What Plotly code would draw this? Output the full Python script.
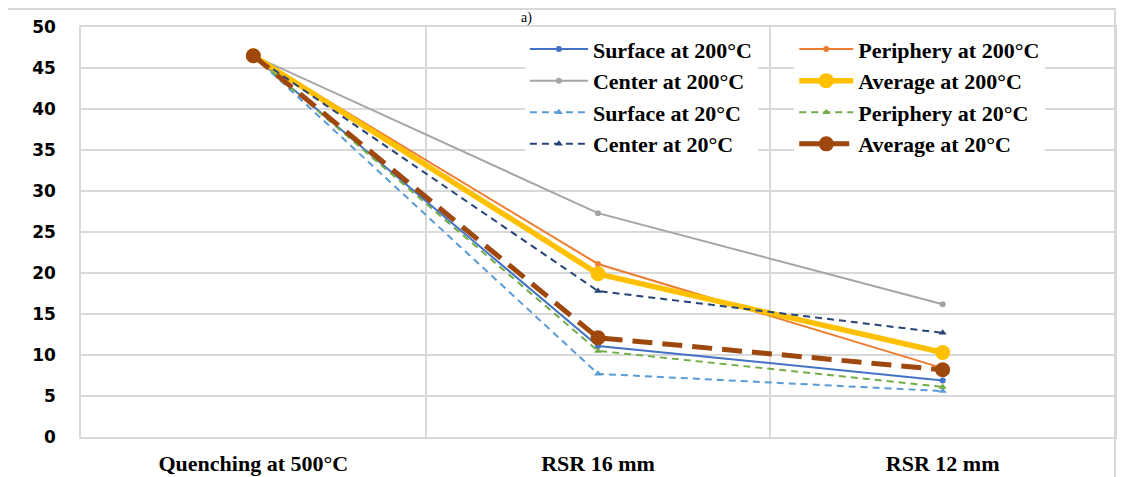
import plotly.graph_objects as go

categories = ["Quenching at 500°C", "RSR 16 mm", "RSR 12 mm"]

surface_200 = [46.5, 11.1, 6.9]
periphery_200 = [46.5, 21.1, 8.4]
center_200 = [46.5, 27.3, 16.2]
average_200 = [46.5, 19.9, 10.3]
surface_20 = [46.5, 7.7, 5.6]
periphery_20 = [46.5, 10.5, 6.1]
center_20 = [46.5, 17.8, 12.7]
average_20 = [46.5, 12.1, 8.2]

y_ticks = [0, 5, 10, 15, 20, 25, 30, 35, 40, 45, 50]

series = [
    ("Surface at 200°C", surface_200, "#4472C4", "solid", 2, "circle", 6, "legend"),
    ("Periphery at 200°C", periphery_200, "#ED7D31", "solid", 2, "circle", 6, "legend2"),
    ("Center at 200°C", center_200, "#A5A5A5", "solid", 2, "circle", 6, "legend"),
    ("Average at 200°C", average_200, "#FFC000", "solid", 5.5, "circle", 15, "legend2"),
    ("Surface at 20°C", surface_20, "#5B9BD5", "7px,5px", 2, "triangle-up", 7, "legend"),
    ("Periphery at 20°C", periphery_20, "#70AD47", "7px,5px", 2, "triangle-up", 7, "legend2"),
    ("Center at 20°C", center_20, "#264478", "7px,5px", 2, "triangle-up", 7, "legend"),
    ("Average at 20°C", average_20, "#9E480E", "20px,10px", 5, "circle", 15, "legend2"),
]

fig = go.Figure()
for name, vals, color, dash, w, sym, ms, leg in series:
    fig.add_trace(go.Scatter(
        x=categories, y=vals, name=name, mode="lines+markers",
        line=dict(color=color, width=w, dash=dash),
        marker=dict(color=color, symbol=sym, size=ms),
        legend=leg, legendgroup=name,
    ))

grid = "#D9D9D9"
legend_font = dict(family="Liberation Serif", size=22, color="#000000", weight="bold")

# the page adds an 8px body margin, so the figure is sized to fit inside it
fig.update_layout(
    width=1121, height=469,
    margin=dict(l=73, r=14, t=19, b=40, autoexpand=False),
    paper_bgcolor="white", plot_bgcolor="white",
    showlegend=True,
    legend=dict(x=0.4293, y=0.997, xanchor="left", yanchor="top",
                bgcolor="white", font=legend_font, itemwidth=58,
                tracegroupgap=4, traceorder="normal"),
    legend2=dict(x=0.6898, y=0.997, xanchor="left", yanchor="top",
                 bgcolor="white", font=legend_font, itemwidth=54,
                 tracegroupgap=4, traceorder="normal"),
    xaxis=dict(
        type="category", range=[-0.5, 2.5], tickson="boundaries", automargin=False,
        showgrid=True, gridcolor=grid, gridwidth=1.5,
        showline=True, linecolor=grid, linewidth=1.5, mirror=True,
        ticks="", ticklabelstandoff=6,
        tickfont=dict(family="Liberation Serif", size=22, color="#000000", weight="bold"),
    ),
    yaxis=dict(
        range=[0, 50], tickvals=y_ticks, ticktext=[str(v) for v in y_ticks],
        automargin=False,
        showgrid=True, gridcolor=grid, gridwidth=1.5,
        showline=True, linecolor=grid, linewidth=1.5, mirror=True,
        zeroline=False, ticks="", ticklabelstandoff=20,
        tickfont=dict(family="DejaVu Sans", size=17, color="#000000", weight="bold"),
    ),
    shapes=[dict(type="rect", xref="paper", yref="paper",
                 x0=-0.0716, x1=1.0, y0=-0.3, y1=1.0439,
                 line=dict(color=grid, width=2), fillcolor="rgba(0,0,0,0)", layer="below")],
    annotations=[dict(text="a)", xref="paper", yref="paper", x=0.431, y=1.046,
                      xanchor="center", yanchor="top", showarrow=False,
                      font=dict(family="Liberation Serif", size=14, color="#000000"))],
)

fig.write_html("out.html")
